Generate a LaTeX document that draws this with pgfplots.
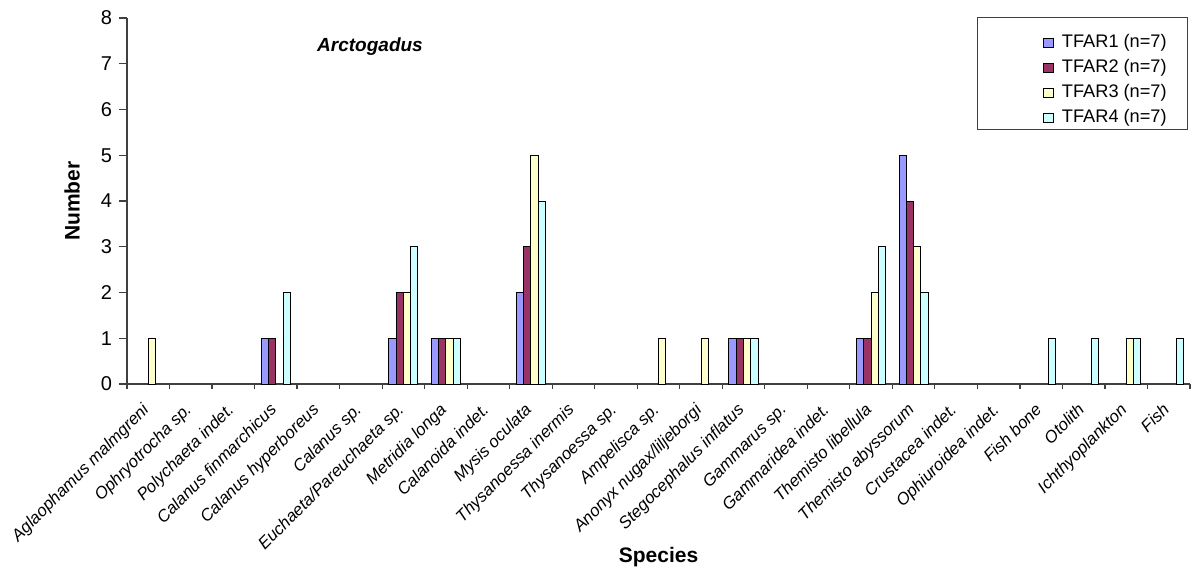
\documentclass[border=0pt]{standalone}
\usepackage{fontspec}
\setmainfont{Liberation Sans}
\usepackage{pgfplots}
\pgfplotsset{compat=1.18}
\definecolor{cA}{RGB}{153,153,255}
\definecolor{cB}{RGB}{153,51,102}
\definecolor{cC}{RGB}{255,255,204}
\definecolor{cD}{RGB}{204,255,255}
\pgfplotsset{sqleg/.style={legend image code/.code={\draw[##1,draw=black,line width=0.5pt] (0pt,-2.4pt) rectangle (4.8pt,2.4pt);}}}
\begin{document}
\begin{tikzpicture}
\path[use as bounding box] (-63.5pt,-94pt) rectangle (532.5pt,192pt);
\begin{axis}[
  at={(0,0)}, anchor=south west,
  width=531.5pt, height=183pt, scale only axis,
  xmin=-0.5, xmax=24.5, ymin=0, ymax=8,
  axis lines*=left,
  axis line style={black!75, line width=0.6pt},
  tick align=outside,
  ybar=0pt, bar width=0.1717,
  ytick={0,1,...,8},
  major tick length=4pt, minor tick length=2.5pt,
  every tick/.style={black!75, line width=0.6pt},
  xtick={0,...,24},
  major x tick style={draw=none},
  minor xtick={-0.5,0.5,...,24.5},
  xticklabels={Aglaophamus malmgreni, Ophryotrocha sp., Polychaeta indet., Calanus finmarchicus, Calanus hyperboreus, Calanus sp., Euchaeta/Pareuchaeta sp., Metridia longa, Calanoida indet., Mysis oculata, Thysanoessa inermis, Thysanoessa sp., Ampelisca sp., Anonyx nugax/liljeborgi, Stegocephalus inflatus, Gammarus sp., Gammaridea indet., Themisto libellula, Themisto abyssorum, Crustacea indet., Ophiuroidea indet., Fish bone, Otolith, Ichthyoplankton, Fish},
  xticklabel style={font=\fontsize{8.4}{10}\selectfont\itshape, xshift=-3.6pt, yshift=-3.4pt, rotate=45, anchor=north east, inner sep=1pt},
  yticklabel style={font=\fontsize{10}{12}\selectfont},
  /pgf/number format/assume math mode=true,
  xlabel={Species}, ylabel={Number},
  xlabel style={font=\fontsize{10.5}{12}\selectfont\bfseries, at={(axis description cs:0.5,-0.4727)}, anchor=center},
  ylabel style={font=\fontsize{10.5}{12}\selectfont\bfseries, at={(axis description cs:-0.0517,0.5)}, anchor=center},
  legend style={at={(rel axis cs:0.8617,0.967)}, anchor=north west, draw=none, fill=none,
    font=\fontsize{9.1}{11}\selectfont, inner sep=0pt, row sep=0pt,
    nodes={text height=6.8pt, text depth=2.2pt, inner ysep=1.75pt},
    /tikz/every odd column/.append style={column sep=2pt}},
  legend cell align=left,
  clip=false,
]
\addplot[fill=cA, draw=black, line width=0.5pt, bar shift=-0.2576, sqleg] coordinates {(3,1) (6,1) (7,1) (9,2) (14,1) (17,1) (18,5)};
\addplot[fill=cB, draw=black, line width=0.5pt, bar shift=-0.0859, sqleg] coordinates {(3,1) (6,2) (7,1) (9,3) (14,1) (17,1) (18,4)};
\addplot[fill=cC, draw=black, line width=0.5pt, bar shift=0.0859, sqleg] coordinates {(0,1) (6,2) (7,1) (9,5) (12,1) (13,1) (14,1) (17,2) (18,3) (23,1)};
\addplot[fill=cD, draw=black, line width=0.5pt, bar shift=0.2576, sqleg] coordinates {(3,2) (6,3) (7,1) (9,4) (14,1) (17,3) (18,2) (21,1) (22,1) (23,1) (24,1)};
\legend{TFAR1 (n=7), TFAR2 (n=7), TFAR3 (n=7), TFAR4 (n=7)}
\draw[black!75, line width=0.5pt] (rel axis cs:0.80,1.0027) rectangle (rel axis cs:0.9972,0.694);
\node[font=\fontsize{9.5}{11}\selectfont\bfseries\itshape] at (rel axis cs:0.2286,0.9208) {Arctogadus};
\end{axis}
\end{tikzpicture}
\end{document}
